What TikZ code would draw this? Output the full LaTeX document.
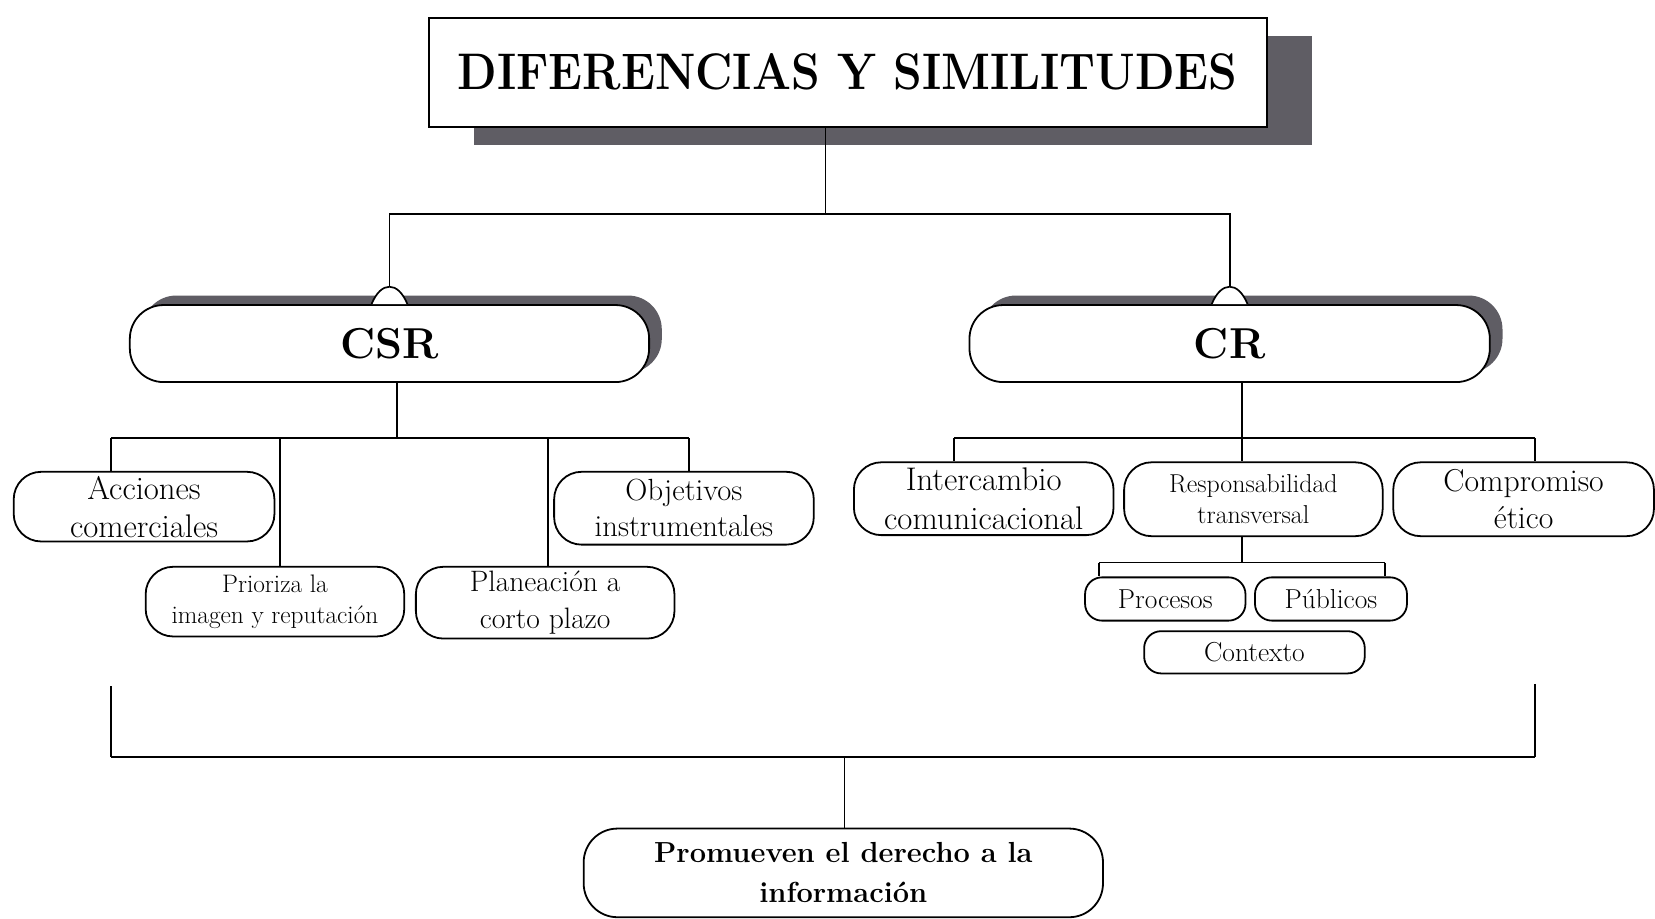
\documentclass[tikz,border=0pt]{standalone}
\usepackage{fontspec}
\usetikzlibrary{shadows,calc}
\definecolor{shadowc}{RGB}{95,93,100}
\newcommand{\fsz}[2]{\fontsize{#1}{#2}\selectfont}
\begin{document}
\begin{tikzpicture}[x=1pt,y=-1pt,line width=1.7pt,
  box/.style={draw, fill=white, line width=1.7pt, inner sep=0pt, align=center, rounded corners=#1},
  box/.default=26,
  bshadow/.style={drop shadow={shadow xshift=12pt, shadow yshift=9pt, fill=shadowc, opacity=1}},
  conn/.style={line width=1.7pt},
  archc/.style={line width=1.6pt, fill=white}]
\useasboundingbox (0,0) rectangle (1568,870);

% title
\node[draw, fill=white, line width=1.9pt, inner sep=0pt, minimum width=794pt, minimum height=103pt,
  drop shadow={shadow xshift=43pt, shadow yshift=-17.5pt, fill=shadowc, opacity=1},
  font=\fsz{43.5}{50}\bfseries] (title) at (803,68.5) {\scalebox{1}[1.12]{DIFERENCIAS Y SIMILITUDES}};

% main boxes
\node[box=32, bshadow, minimum width=492pt, minimum height=73pt, font=\fsz{41}{46}\bfseries] (csr) at (369,325.5) {CSR};
\node[box=32, bshadow, minimum width=493pt, minimum height=73pt, font=\fsz{41}{46}\bfseries] (cr) at (1165,325.5) {CR};

% arches
\draw[archc] ($(csr.north)+(-17,0)$) .. controls ($(csr.north)+(-8,-22)$) and ($(csr.north)+(8,-22)$) .. ($(csr.north)+(17,0)$);
\draw[archc] ($(cr.north)+(-17,0)$) .. controls ($(cr.north)+(-8,-22)$) and ($(cr.north)+(8,-22)$) .. ($(cr.north)+(17,0)$);
\coordinate (csrtop) at ($(csr.north)+(0,-16.5)$);
\coordinate (crtop) at ($(cr.north)+(0,-16.5)$);

% title connectors
\coordinate (tj) at (782,203);
\draw[conn] (title.south -| tj) -- (tj);
\draw[conn] (csrtop) |- (tj) -| (crtop);

% CSR children
\node[box, minimum width=247pt, minimum height=66pt, font=\fsz{31}{36}] (acc) at (136.5,480) {Acciones\\comerciales};
\node[box, minimum width=245pt, minimum height=66pt, font=\fsz{24}{30}] (pri) at (260.5,570) {Prioriza la\\imagen y reputación};
\node[box, minimum width=245pt, minimum height=68pt, font=\fsz{28}{35}] (pla) at (516.5,571) {Planeación a\\corto plazo};
\node[box, minimum width=246pt, minimum height=69pt, font=\fsz{29}{34}] (obj) at (648,481.5) {Objetivos\\instrumentales};

\coordinate (cj) at (376,415);
\coordinate (cbl) at (105,415);
\coordinate (cbr) at (653,415);
\coordinate (cp1) at (265,415);
\coordinate (cp2) at (519,415);
\draw[conn] (csr.south -| cj) -- (cj);
\draw[conn] (cbl) -- (cbr);
\draw[conn] (cbl) -- (cbl |- acc.north);
\draw[conn] (cbr) -- (cbr |- obj.north);
\draw[conn] (cp1) -- (cp1 |- pri.north);
\draw[conn] (cp2) -- (cp2 |- pla.north);

% CR children
\node[box, minimum width=246pt, minimum height=69pt, font=\fsz{31}{37}] (int) at (932,472.5) {Intercambio\\comunicacional};
\node[box, minimum width=245pt, minimum height=70pt, font=\fsz{24.5}{29}] (resp) at (1187.5,473) {Responsabilidad\\transversal};
\node[box, minimum width=247pt, minimum height=70pt, font=\fsz{30}{35}] (comp) at (1443.5,473) {Compromiso\\ético};

\coordinate (rj) at (1177,415);
\coordinate (rbl) at (904,415);
\coordinate (rbr) at (1454,415);
\draw[conn] (cr.south -| rj) -- (rj);
\draw[conn] (rbl) -- (rbr);
\draw[conn] (rbl) -- (rbl |- int.north);
\draw[conn] (rj) -- (rj |- resp.north);
\draw[conn] (rbr) -- (rbr |- comp.north);

\node[box=16, minimum width=152pt, minimum height=41pt, font=\fsz{26}{30}] (proc) at (1104,567.5) {Procesos};
\node[box=16, minimum width=144pt, minimum height=41pt, font=\fsz{26}{30}] (pub) at (1261,567.5) {Públicos};
\node[box=16, minimum width=209pt, minimum height=40pt, font=\fsz{26}{30}] (ctx) at (1188.5,618) {Contexto};

\coordinate (sj) at (1177,533);
\coordinate (sbl) at (1041,533);
\coordinate (sbr) at (1312,533);
\draw[conn] (resp.south -| sj) -- (sj);
\draw[conn] (sbl) -- (sbr);
\draw[conn] (sbl) -- (sbl |- proc.north);
\draw[conn] (sbr) -- (sbr |- pub.north);

% bottom bracket
\node[box=32, minimum width=492pt, minimum height=84pt, font=\fsz{27.5}{38}\bfseries] (prom) at (799,827) {Promueven el derecho a la\\información};
\coordinate (bl0) at (105,650);
\coordinate (bl1) at (105,717);
\coordinate (br0) at (1454,648);
\coordinate (br1) at (1454,717);
\coordinate (bj) at (800,717);
\draw[conn] (bl0) -- (bl1);
\draw[conn] (br0) -- (br1);
\draw[line width=2.4pt] (bl1) -- (br1);
\draw[conn] (bj) -- (bj |- prom.north);
\end{tikzpicture}
\end{document}
